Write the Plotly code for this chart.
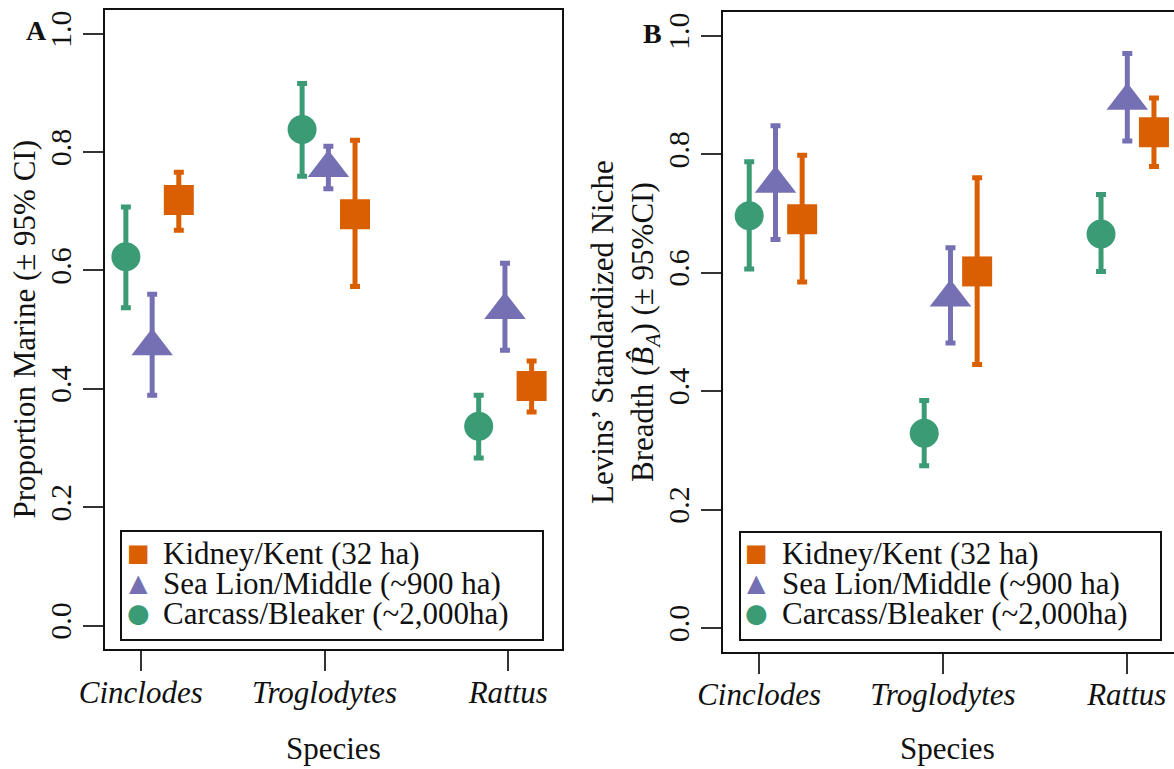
import plotly.graph_objects as go

W, H = 1174, 769

# ---------------- data ----------------
species = ["Cinclodes", "Troglodytes", "Rattus"]
site_names = ["Kidney/Kent (32 ha)", "Sea Lion/Middle (~900 ha)", "Carcass/Bleaker (~2,000ha)"]

# Panel A: proportion marine (mean, lower 95% CI, upper 95% CI)
a_kidney_mean = [0.719, 0.695, 0.405]
a_kidney_lo = [0.668, 0.573, 0.361]
a_kidney_hi = [0.766, 0.820, 0.447]
a_sealion_mean = [0.472, 0.773, 0.533]
a_sealion_lo = [0.389, 0.738, 0.465]
a_sealion_hi = [0.560, 0.810, 0.612]
a_carcass_mean = [0.623, 0.838, 0.337]
a_carcass_lo = [0.537, 0.759, 0.283]
a_carcass_hi = [0.707, 0.916, 0.389]

# Panel B: Levins' standardized niche breadth
b_kidney_mean = [0.690, 0.602, 0.837]
b_kidney_lo = [0.584, 0.445, 0.779]
b_kidney_hi = [0.798, 0.760, 0.895]
b_sealion_mean = [0.750, 0.558, 0.890]
b_sealion_lo = [0.656, 0.481, 0.822]
b_sealion_hi = [0.848, 0.642, 0.970]
b_carcass_mean = [0.696, 0.329, 0.665]
b_carcass_lo = [0.606, 0.274, 0.602]
b_carcass_hi = [0.787, 0.384, 0.732]

y_ticks = [0.0, 0.2, 0.4, 0.6, 0.8, 1.0]
y_ticktext = ["0.0", "0.2", "0.4", "0.6", "0.8", "1.0"]

# ---------------- styling / layout constants ----------------
site_colors = ["#D95F02", "#7570B3", "#3B9B75"]
site_symbols = ["square", "triangle-up", "circle"]
site_sizes = [30, 36, 29]
legend_glyphs = ["\u25A0", "\u25B2", "\u25CF"]
legend_glyph_sizes = [24, 24, 26]
site_offsets = [0.145, 0.0, -0.143]
group_center_a = [1.062, 2.021, 2.982]
group_center_b = [1.089, 2.041, 3.003]

FONT = "Liberation Serif"


def px(x):
    return x / W


def py(y):
    return 1 - y / H


fig = go.Figure()

panels = [
    ("x", "y", group_center_a,
     [(a_kidney_mean, a_kidney_lo, a_kidney_hi),
      (a_sealion_mean, a_sealion_lo, a_sealion_hi),
      (a_carcass_mean, a_carcass_lo, a_carcass_hi)]),
    ("x2", "y2", group_center_b,
     [(b_kidney_mean, b_kidney_lo, b_kidney_hi),
      (b_sealion_mean, b_sealion_lo, b_sealion_hi),
      (b_carcass_mean, b_carcass_lo, b_carcass_hi)]),
]

draw_order = [2, 1, 0]
for xa, ya, centers, series in panels:
    for i in draw_order:
        mean, lo, hi = series[i]
        xs = [c + site_offsets[i] for c in centers]
        fig.add_trace(go.Scatter(
            x=xs, y=mean, mode="markers", xaxis=xa, yaxis=ya,
            name=site_names[i], showlegend=False,
            marker=dict(symbol=site_symbols[i], size=site_sizes[i],
                        color=site_colors[i], line=dict(width=0)),
            error_y=dict(type="data", symmetric=False,
                         array=[h - m for h, m in zip(hi, mean)],
                         arrayminus=[m - l for m, l in zip(mean, lo)],
                         color=site_colors[i], thickness=5, width=5),
        ))

axis_common = dict(showgrid=False, zeroline=False, showline=True, automargin=False,
                   linecolor="#111", linewidth=2, ticks="outside",
                   ticklen=20, tickwidth=1.5, tickcolor="#333")

xt = dict(tickmode="array", tickvals=[1, 2, 3],
          ticktext=["<i>%s</i>" % s for s in species],
          ticklabelstandoff=-6,
          tickfont=dict(family=FONT, size=31, color="#111"))
yt = dict(tickmode="array", tickvals=y_ticks, ticktext=y_ticktext,
          tickangle=-90, tickfont=dict(family=FONT, size=30, color="#111"),
          range=[-0.04, 1.04])

fig.update_layout(
    template="none",
    width=W, height=H, margin=dict(l=0, r=0, t=0, b=0, pad=0, autoexpand=False),
    paper_bgcolor="white", plot_bgcolor="white",
    font=dict(family=FONT, color="#111"),
    showlegend=False,
    xaxis=dict(domain=[px(105.3), px(562.3)], range=[0.807, 3.294],
               mirror=True, anchor="y", **xt, **axis_common),
    yaxis=dict(domain=[py(649.3), py(10)], mirror=True, anchor="x",
               **yt, **axis_common),
    xaxis2=dict(domain=[px(723.3), 1.0], range=[0.805, 3.257],
                mirror=True, anchor="y2", **xt, **axis_common),
    yaxis2=dict(domain=[py(651.7), py(12)], mirror=False, anchor="x2",
                **yt, **axis_common),
)

ann = []
# panel letters
ann.append(dict(text="<b>A</b>", x=px(36), y=py(31), xref="paper", yref="paper",
                showarrow=False, font=dict(family=FONT, size=28, color="#111"),
                xanchor="center", yanchor="middle"))
ann.append(dict(text="<b>B</b>", x=px(652), y=py(33), xref="paper", yref="paper",
                showarrow=False, font=dict(family=FONT, size=28, color="#111"),
                xanchor="center", yanchor="middle"))
# y titles
ann.append(dict(text="Proportion Marine (\u00B1 95% CI)", x=px(25), y=py(329.6),
                xref="paper", yref="paper", showarrow=False, textangle=-90,
                font=dict(family=FONT, size=31, color="#111"),
                xanchor="center", yanchor="middle"))
ann.append(dict(text="Levins\u2019 Standardized Niche<br>Breadth (<i>B\u0302</i><sub><i>A</i></sub>) (\u00B1 95%CI)",
                x=px(625), y=py(332), xref="paper", yref="paper", showarrow=False,
                textangle=-90, font=dict(family=FONT, size=31, color="#111"),
                xanchor="center", yanchor="middle"))
# x titles
for cx in (333.8, 947):
    ann.append(dict(text="Species", x=px(cx), y=py(748), xref="paper", yref="paper",
                    showarrow=False, font=dict(family=FONT, size=31, color="#111"),
                    xanchor="center", yanchor="middle"))

shapes = []
# legends
legend_specs = [(121, 543, 531, 640, 138.3, 161), (740, 1161, 532, 640, 756.5, 780)]
row_y = [553, 583, 613]
for bx0, bx1, by0, by1, gx, tx in legend_specs:
    shapes.append(dict(type="rect", xref="paper", yref="paper",
                       x0=px(bx0), x1=px(bx1), y0=py(by1), y1=py(by0),
                       line=dict(color="#111", width=2), fillcolor="white", layer="above"))
    for i in range(3):
        ann.append(dict(text=legend_glyphs[i], x=px(gx), y=py(row_y[i]),
                        xref="paper", yref="paper", showarrow=False,
                        font=dict(family="DejaVu Sans", size=legend_glyph_sizes[i],
                                  color=site_colors[i]),
                        xanchor="center", yanchor="middle"))
        ann.append(dict(text=site_names[i], x=px(tx), y=py(row_y[i]),
                        xref="paper", yref="paper", showarrow=False,
                        font=dict(family=FONT, size=31, color="#111"),
                        xanchor="left", yanchor="middle"))

fig.update_layout(annotations=ann, shapes=shapes)
fig.write_html("out.html", config={"displayModeBar": False},
               post_script="document.body.style.margin='0';")
